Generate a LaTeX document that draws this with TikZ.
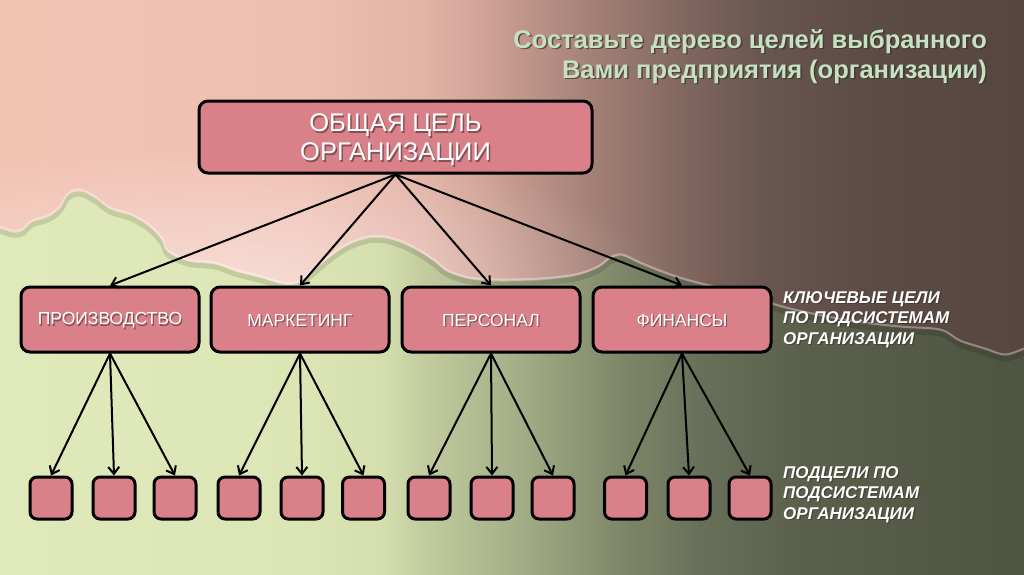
\documentclass[tikz,border=0pt]{standalone}
\usepackage{fontspec}
\setmainfont{Liberation Sans}
\usetikzlibrary{arrows.meta,fadings}
\definecolor{g0}{HTML}{DFE9BA}
\definecolor{g1}{HTML}{DCE6B5}
\definecolor{g2}{HTML}{D5DFAE}
\definecolor{g3}{HTML}{C3CD9F}
\definecolor{g4}{HTML}{AAB48C}
\definecolor{g5}{HTML}{949E7B}
\definecolor{g6}{HTML}{7F8769}
\definecolor{g7}{HTML}{69705A}
\definecolor{g8}{HTML}{5A604B}
\definecolor{g9}{HTML}{4E5440}
\definecolor{p0}{HTML}{F2C3B3}
\definecolor{p1}{HTML}{EFC0B2}
\definecolor{p2}{HTML}{E3B3A6}
\definecolor{p3}{HTML}{D2A497}
\definecolor{p4}{HTML}{B99085}
\definecolor{p5}{HTML}{A07E74}
\definecolor{p6}{HTML}{82685F}
\definecolor{p7}{HTML}{6A5650}
\definecolor{p8}{HTML}{5D4B46}
\definecolor{p9}{HTML}{574540}
\definecolor{boxpink}{HTML}{D98089}
\definecolor{titlegreen}{HTML}{C4E2C0}
\definecolor{shadowdark}{HTML}{3A2E2C}
\pgfdeclarehorizontalshading{greenbg}{100bp}{color(0bp)=(g0); color(25bp)=(g0); color(39.65bp)=(g1); color(43.55bp)=(g2); color(45.51bp)=(g3); color(49.41bp)=(g4); color(52.34bp)=(g5); color(55.27bp)=(g6); color(59.18bp)=(g7); color(64.06bp)=(g8); color(75bp)=(g9); color(100bp)=(g9)}
\pgfdeclarehorizontalshading{pinkbg}{100bp}{color(0bp)=(p0); color(25bp)=(p0); color(39.65bp)=(p1); color(45.51bp)=(p2); color(48.44bp)=(p3); color(51.37bp)=(p4); color(54.30bp)=(p5); color(58.2bp)=(p6); color(62.11bp)=(p7); color(66.99bp)=(p8); color(75bp)=(p9); color(100bp)=(p9)}
\tikzfading[name=softspot, inner color=transparent!0, outer color=transparent!100]
\tikzset{
  bnd/.style={insert path={plot[smooth,tension=0.55] coordinates {(0,228) (12,232) (22,231) (32,222) (48,217) (60,208) (68,195) (80,191) (95,198) (110,209) (132,216) (150,227) (162,240) (168,252) (188,261) (215,264) (235,271) (262,278) (283,284) (298,283) (312,272) (330,257) (348,245) (368,238) (385,238) (402,243) (420,252) (435,262) (448,272) (470,279) (500,281) (540,280) (575,276) (598,268) (610,259) (622,256) (640,264) (665,274) (690,282) (740,295) (790,310) (850,322) (900,328) (940,331) (960,342) (985,350) (1005,356) (1024,350)}}},
  goalbox/.style={draw=black, line width=3pt, fill=boxpink, rounded corners=9pt},
  subbox/.style={draw=black, line width=3pt, fill=boxpink, rounded corners=7pt, minimum width=42pt, minimum height=42pt},
  keybox/.style={goalbox, minimum width=178pt, minimum height=65pt},
  conn/.style={line width=2pt, -{Straight Barb[length=7pt,width=11pt,line width=2pt]}},
  boxtxt/.style={text=white, inner sep=0pt, align=center},
  boxshadow/.style={text=shadowdark, text opacity=0.55, inner sep=0pt, align=center},
  sidetxt/.style={text=white, inner sep=0pt, align=left, font=\bfseries\itshape\fontsize{17}{20.5}\selectfont},
  sideshadow/.style={sidetxt, text=shadowdark, text opacity=0.6},
  titletxt/.style={inner sep=0pt, align=right, anchor=north east, font=\bfseries\fontsize{25.5}{30}\selectfont},
}
\begin{document}
\begin{tikzpicture}[x=1pt,y=-1pt]
\useasboundingbox (0,0) rectangle (1024,574);
% background
\shade[shading=greenbg] (0,0) rectangle (1024,574);
\draw[black, opacity=0.12, line width=5pt, yshift=-3pt] [bnd];
\shade[shading=pinkbg] [bnd] -- (1024,0) -- (0,0) -- cycle;
\begin{scope}
  \clip [bnd] -- (1024,0) -- (0,0) -- cycle;
  \fill[white, fill opacity=0.45, path fading=softspot] (230,285) ellipse (440 and 140);
\end{scope}
\draw[white, opacity=0.35, line width=2pt, yshift=1.5pt] [bnd];
% title
\node[titletxt, text=shadowdark, text opacity=0.7] (titleS) at (988.5,30.5) {Составьте дерево целей выбранного\\Вами предприятия (организации)};
\node[titletxt, text=titlegreen] (title) at (987,29) {Составьте дерево целей выбранного\\Вами предприятия (организации)};
% top goal
\node[goalbox, minimum width=393pt, minimum height=72pt] (top) at (395.5,137) {};
\node[boxshadow, font=\fontsize{25.5}{29}\selectfont] (topS) at ([shift={(1.5,4.5)}]top.center) {ОБЩАЯ ЦЕЛЬ\\ОРГАНИЗАЦИИ};
\node[boxtxt, font=\fontsize{25.5}{29}\selectfont] (topT) at ([shift={(0,3)}]top.center) {ОБЩАЯ ЦЕЛЬ\\ОРГАНИЗАЦИИ};
% key goals
\foreach \n/\x/\t in {m1/110/ПРОИЗВОДСТВО, m2/300/МАРКЕТИНГ, m3/491/ПЕРСОНАЛ, m4/682/ФИНАНСЫ}{
  \node[keybox] (\n) at (\x,319.5) {};
  \node[boxshadow, font=\fontsize{17.5}{20}\selectfont] (\n S) at ([shift={(1.2,2.2)}]\n.center) {\t};
  \node[boxtxt, font=\fontsize{17.5}{20}\selectfont] (\n T) at ([shift={(0,1)}]\n.center) {\t};
  \draw[conn] (top.south) -- (\n.north);
}
% sub goals
\foreach \p/\a/\b/\c in {m1/51/114/175, m2/239/302/363.5, m3/429/492/553, m4/625.5/689/750}{
  \node[subbox] (\p a) at (\a,498) {};
  \node[subbox] (\p b) at (\b,498) {};
  \node[subbox] (\p c) at (\c,498) {};
  \draw[conn] (\p.south) -- (\p a.north);
  \draw[conn] (\p.south) -- (\p b.north);
  \draw[conn] (\p.south) -- (\p c.north);
}
% side labels
\node[sideshadow, anchor=north west] (k1S) at (784.2,292.2) {КЛЮЧЕВЫЕ ЦЕЛИ\\ПО ПОДСИСТЕМАМ\\ОРГАНИЗАЦИИ};
\node[sidetxt, anchor=north west] (k1) at (783,291) {КЛЮЧЕВЫЕ ЦЕЛИ\\ПО ПОДСИСТЕМАМ\\ОРГАНИЗАЦИИ};
\node[sideshadow, anchor=north west] (k2S) at (784.2,467.2) {ПОДЦЕЛИ ПО\\ПОДСИСТЕМАМ\\ОРГАНИЗАЦИИ};
\node[sidetxt, anchor=north west] (k2) at (783,466) {ПОДЦЕЛИ ПО\\ПОДСИСТЕМАМ\\ОРГАНИЗАЦИИ};
\end{tikzpicture}
\end{document}
